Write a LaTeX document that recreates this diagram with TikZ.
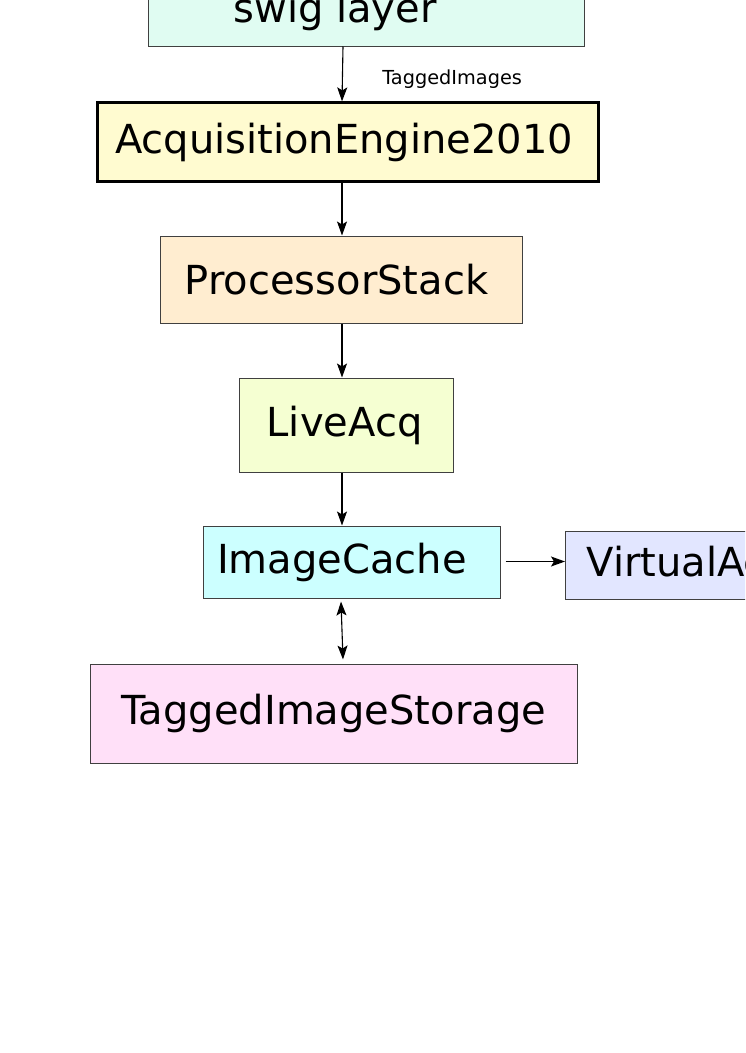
\documentclass[tikz,border=0pt]{standalone}
\usepackage{fontspec}
\setmainfont{DejaVu Sans}
\usetikzlibrary{arrows.meta, positioning}

\definecolor{swigfill}{HTML}{E0FCF2}
\definecolor{acqfill}{HTML}{FFFBD0}
\definecolor{procfill}{HTML}{FFEDD0}
\definecolor{livefill}{HTML}{F5FFD2}
\definecolor{cachefill}{HTML}{CCFFFF}
\definecolor{virtfill}{HTML}{E2E6FF}
\definecolor{storefill}{HTML}{FFE0F8}

\begin{document}
\begin{tikzpicture}[
      x=1pt, y=-1pt,
      font=\fontsize{40}{48}\selectfont,
      box/.style={draw=black!75, line width=1pt, inner sep=0pt},
      mainbox/.style={box, draw=black, line width=2.2pt},
      arr/.style={-{Stealth[length=14pt, width=10pt, inset=3pt]}, line width=1.1pt},
      darr/.style={{Stealth[length=14pt, width=10pt, inset=3pt]}-{Stealth[length=14pt, width=10pt, inset=3pt]}, line width=1.1pt},
    ]
    \useasboundingbox (0,0) rectangle (745,1053);
    \clip (0,0) rectangle (745,1053);
    \node[box, fill=swigfill, minimum width=436pt, minimum height=70pt] (swig) at (366,11)
      {\hspace*{-62pt}swig layer};
    \node[mainbox, fill=acqfill, minimum width=501pt, minimum height=79pt] (acq) at (348,142)
      {\hspace*{-8pt}AcquisitionEngine2010};
    \node[box, fill=procfill, minimum width=362pt, minimum height=87pt] (proc) at (341,279.5)
      {\hspace*{-9pt}ProcessorStack};
    \node[box, fill=livefill, minimum width=214pt, minimum height=94pt] (live) at (346,425)
      {\hspace*{-3pt}LiveAcq};
    \node[box, fill=cachefill, minimum width=297pt, minimum height=72pt] (cache) at (351.5,562)
      {\hspace*{-19pt}ImageCache};
    \node[box, fill=virtfill, minimum height=68pt, inner xsep=21pt, anchor=west] (virt)
      at (565,565) {VirtualAcquisitionDisplay};
    \node[box, fill=storefill, minimum width=487pt, minimum height=99pt] (store) at (333.5,713.5)
      {TaggedImageStorage};
    \draw[arr] (swig.south -| 343,0) -- (acq.north -| 342,0)
      node[midway, right=36pt, yshift=-5pt, font=\fontsize{19.3}{23}\selectfont] (tag) {TaggedImages};
    \draw[arr] (acq.south -| 342,0) -- (proc.north -| 342,0);
    \draw[arr] (proc.south -| 342,0) -- (live.north -| 342,0);
    \draw[arr] (live.south -| 342,0) -- (cache.north -| 342,0);
    \draw[arr] ([xshift=5pt]cache.east |- 0,561.5) -- (virt.west |- 0,561.5);
    \draw[darr] ([yshift=-3pt]cache.south -| 341,0) -- ([yshift=4pt]store.north -| 343,0);
  \end{tikzpicture}
\end{document}
